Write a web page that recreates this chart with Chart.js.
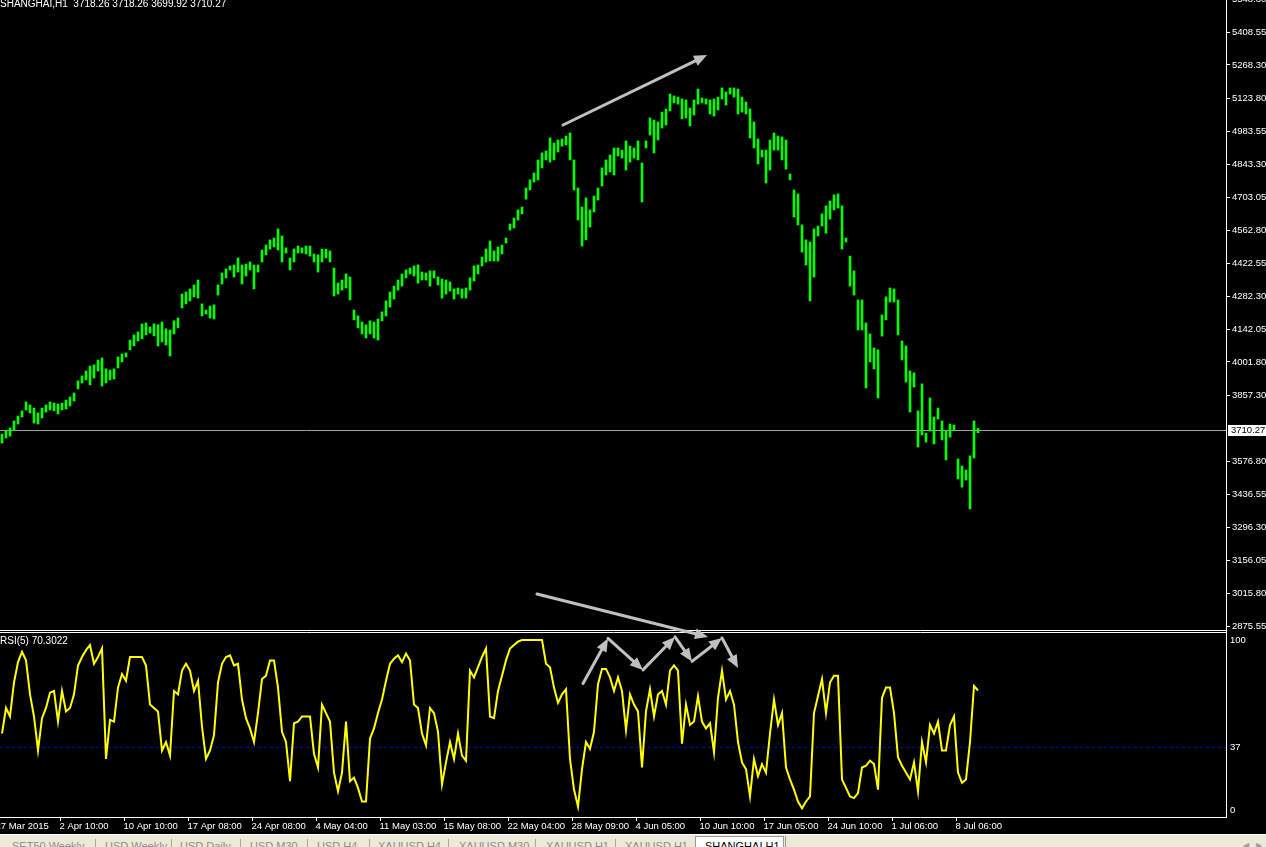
<!DOCTYPE html>
<html lang="en">
<head>
<meta charset="utf-8" />
<title>SHANGHAI,H1</title>
<script src="https://cdn.jsdelivr.net/npm/chart.js@4.4.1/dist/chart.umd.min.js"></script>
<style>
	html, body { margin: 0; padding: 0; background: #000; width: 1266px; height: 847px; overflow: hidden; }
	#wrap { position: absolute; left: 0; top: -20px; width: 1266px; height: 855px; }
	#tabs { position: absolute; left: 0; top: 834px; width: 1266px; height: 13px; box-sizing: border-box;
		background: #ece9d8; border-top: 1px solid #fff; overflow: hidden;
		font-family: "Liberation Sans", sans-serif; font-size: 11px; color: #8c8c8c; }
	#tabs span { position: absolute; top: 6px; line-height: 11px; white-space: nowrap; }
	#tabs .sep { position: absolute; top: 4px; width: 1px; height: 12px; background: #aca899; }
	#tabs .on { position: absolute; left: 695px; top: 1px; width: 89px; height: 14px; box-sizing: border-box;
		background: #fff; border: 1px solid #919b9c; border-bottom: none; color: #000; }
	#tabs .on span { left: 9px; top: 4px; }
	#tabs .end { position: absolute; left: 785px; top: 1px; width: 481px; height: 14px; border-left: 1px solid #919b9c; }
	#tabs .arr { position: absolute; top: 5px; font-size: 8px; color: #a0a0a0; }
</style>
</head>
<body>
<div id="wrap"><canvas id="chart" width="1266" height="855"></canvas></div>
<div id="tabs">
	<span style="left:12px">SET50 Weekly</span><div class="sep" style="left:95px"></div>
	<span style="left:105px">USD Weekly</span><div class="sep" style="left:171px"></div>
	<span style="left:180px">USD Daily</span><div class="sep" style="left:240px"></div>
	<span style="left:250px">USD M30</span><div class="sep" style="left:307px"></div>
	<span style="left:317px">USD H4</span><div class="sep" style="left:369px"></div>
	<span style="left:378px">XAUUSD H4</span><div class="sep" style="left:448px"></div>
	<span style="left:459px">XAUUSD M30</span><div class="sep" style="left:535px"></div>
	<span style="left:546px">XAUUSD H1</span><div class="sep" style="left:615px"></div>
	<span style="left:625px">XAUUSD H1</span>
	<div class="on"><span>SHANGHAI,H1</span></div>
	<div class="end"></div>
	<span class="arr" style="left:1243px">&#9664;</span><span class="arr" style="left:1256px">&#9654;</span>
</div>

<script>
	// H1 bars, two hours per slot
	var priceHigh = [
		3694, 3707, 3720, 3750, 3771, 3793, 3831, 3818, 3805, 3784,
		3805, 3818, 3831, 3826, 3822, 3826, 3839, 3852, 3869, 3921,
		3942, 3963, 3984, 3989, 4010, 4019, 3972, 3967, 3972, 4023,
		4036, 4040, 4095, 4117, 4130, 4164, 4168, 4151, 4164, 4160,
		4172, 4143, 4138, 4177, 4189, 4291, 4300, 4313, 4330, 4351,
		4249, 4223, 4240, 4245, 4330, 4381, 4398, 4411, 4415, 4445,
		4415, 4419, 4428, 4415, 4415, 4479, 4500, 4522, 4530, 4569,
		4539, 4488, 4445, 4483, 4496, 4488, 4496, 4496, 4462, 4458,
		4483, 4483, 4475, 4402, 4338, 4351, 4377, 4364, 4223, 4198,
		4172, 4160, 4177, 4172, 4185, 4215, 4262, 4300, 4325, 4351,
		4377, 4394, 4402, 4411, 4415, 4385, 4381, 4390, 4390, 4364,
		4355, 4351, 4343, 4313, 4317, 4313, 4317, 4360, 4411, 4415,
		4449, 4483, 4517, 4475, 4492, 4500, 4530, 4590, 4615, 4650,
		4662, 4743, 4778, 4807, 4863, 4893, 4901, 4957, 4935, 4948,
		4952, 4965, 4978, 4863, 4743, 4662, 4701, 4650, 4709, 4743,
		4829, 4863, 4884, 4914, 4914, 4905, 4944, 4922, 4914, 4944,
		4850, 4944, 5042, 5033, 5025, 5067, 5080, 5144, 5136, 5131,
		5123, 5119, 5084, 5119, 5165, 5127, 5123, 5119, 5123, 5131,
		5170, 5153, 5170, 5170, 5165, 5131, 5110, 5080, 5025, 4952,
		4905, 4905, 4948, 4978, 4965, 4961, 4948, 4803, 4735, 4718,
		4586, 4522, 4513, 4569, 4581, 4633, 4667, 4688, 4714, 4718,
		4667, 4530, 4453, 4390, 4266, 4266, 4168, 4121, 4061, 4053,
		4202, 4279, 4317, 4313, 4266, 4091, 4070, 3963, 3955, 3793,
		3908, 3698, 3848, 3767, 3805, 3750, 3707, 3737, 3733, 3588,
		3558, 3541, 3601, 3750, 3718.26
	];
	var priceLow = [
		3656, 3677, 3685, 3711, 3737, 3767, 3797, 3784, 3741, 3737,
		3763, 3788, 3797, 3793, 3780, 3797, 3801, 3814, 3835, 3887,
		3912, 3925, 3904, 3933, 3963, 3899, 3912, 3925, 3929, 3976,
		4002, 4023, 4053, 4070, 4091, 4100, 4117, 4125, 4113, 4070,
		4087, 4074, 4027, 4121, 4147, 4232, 4249, 4262, 4279, 4274,
		4198, 4206, 4189, 4185, 4287, 4334, 4360, 4394, 4364, 4385,
		4334, 4368, 4394, 4313, 4385, 4428, 4458, 4483, 4492, 4479,
		4428, 4466, 4394, 4428, 4466, 4466, 4462, 4453, 4428, 4385,
		4428, 4445, 4428, 4283, 4291, 4308, 4317, 4266, 4181, 4147,
		4121, 4104, 4121, 4104, 4095, 4177, 4198, 4236, 4270, 4308,
		4325, 4360, 4377, 4368, 4338, 4351, 4351, 4325, 4360, 4330,
		4274, 4291, 4304, 4270, 4291, 4274, 4274, 4308, 4347, 4377,
		4411, 4428, 4432, 4432, 4432, 4462, 4509, 4564, 4573, 4607,
		4633, 4696, 4735, 4769, 4778, 4829, 4863, 4854, 4863, 4897,
		4922, 4927, 4863, 4735, 4607, 4496, 4522, 4577, 4641, 4692,
		4752, 4799, 4812, 4799, 4880, 4871, 4820, 4854, 4871, 4863,
		4684, 4914, 4969, 4893, 4948, 4999, 5012, 5072, 5106, 5101,
		5038, 5042, 5008, 5055, 5101, 5106, 5101, 5059, 5050, 5076,
		5123, 5097, 5144, 5131, 5059, 5067, 5059, 4957, 4914, 4846,
		4876, 4765, 4820, 4905, 4905, 4863, 4824, 4778, 4620, 4586,
		4470, 4415, 4262, 4364, 4539, 4581, 4551, 4611, 4650, 4658,
		4483, 4513, 4325, 4287, 4138, 4138, 3891, 4002, 3972, 3848,
		4112, 4181, 4257, 4257, 4117, 4010, 3916, 3788, 3895, 3639,
		3690, 3660, 3707, 3652, 3758, 3669, 3584, 3681, 3711, 3503,
		3468, 3498, 3375, 3592, 3699.92
	];
	var rsi = [
		45, 60, 55, 75, 87, 93, 88, 68, 55, 35,
		54, 60, 69, 70, 52, 70, 58, 60, 68, 85,
		90, 94, 97, 86, 90, 95, 30, 53, 52, 72,
		80, 76, 90, 90, 90, 90, 85, 62, 60, 58,
		35, 40, 32, 70, 68, 82, 86, 82, 70, 76,
		49, 30, 35, 44, 75, 86, 90, 91, 85, 86,
		65, 54, 48, 40, 57, 77, 79, 88, 88, 72,
		46, 40, 17, 51, 52, 55, 55, 55, 33, 25,
		62, 57, 52, 22, 11, 22, 52, 17, 19, 13,
		5, 5, 42, 48, 57, 65, 76, 86, 89, 91,
		87, 92, 88, 62, 60, 45, 38, 60, 57, 46,
		15, 28, 40, 30, 45, 32, 29, 82, 78, 84,
		90, 95, 55, 54, 70, 79, 88, 95, 97, 99,
		100, 100, 100, 100, 100, 100, 86, 84, 72, 63,
		68, 71, 30, 12, 2, 24, 40, 36, 46, 74,
		83, 83, 78, 70, 78, 70, 47, 68, 62, 58,
		25, 58, 71, 55, 68, 70, 62, 82, 85, 82,
		39, 62, 50, 52, 67, 52, 48, 51, 34, 66,
		82, 65, 70, 62, 40, 28, 24, 8, 30, 20,
		27, 22, 45, 65, 50, 57, 25, 18, 12, 5,
		1, 5, 8, 57, 67, 77, 57, 75, 79, 79,
		18, 13, 8, 7, 10, 25, 26, 29, 27, 12,
		66, 72, 72, 57, 31, 26, 22, 18, 28, 11,
		40, 28, 50, 45, 52, 35, 35, 50, 55, 22,
		16, 18, 40, 73, 70.3022
	];

	var lastOpen = 3718.26, lastHigh = 3718.26, lastLow = 3699.92, lastClose = 3710.27;
	var rsiLevel = 37;
	var rsiLabels = [100, 37, 0];
	var priceTicks = [5548.80, 5408.55, 5268.30, 5123.80, 4983.55, 4843.30, 4703.05, 4562.80,
		4422.55, 4282.30, 4142.05, 4001.80, 3857.30, 3576.80, 3436.55, 3296.30, 3156.05, 3015.80, 2875.55];
	var timeTickIdx = [-1, 15, 31, 47, 63, 79, 95, 111, 127, 143, 159, 175, 191, 207, 223, 239];
	var timeTickLabels = ["27 Mar 2015", "2 Apr 10:00", "10 Apr 10:00", "17 Apr 08:00", "24 Apr 08:00",
		"4 May 04:00", "11 May 03:00", "15 May 08:00", "22 May 04:00", "28 May 09:00", "4 Jun 05:00",
		"10 Jun 10:00", "17 Jun 05:00", "24 Jun 10:00", "1 Jul 06:00", "8 Jul 06:00"];

	// hand drawn trend arrows: [bar, value, axis]
	var arrowPaths = [
		[[140.25, 5012, "y"], [176.25, 5310, "y"]],
		[[133.75, 3012, "y"], [176.5, 101.8, "yRsi"]],
		[[145.25, 74.4, "yRsi"], [151.5, 100.9, "yRsi"], [160.25, 82.4, "yRsi"], [168.25, 101.8, "yRsi"],
			[172.5, 87.4, "yRsi"], [180, 101.2, "yRsi"], [184, 83.5, "yRsi"]]
	];

	// one canvas, two panes: price on top, RSI(5) below
	var priceMin = 2061.3, priceMax = 5630.3, paneBottom = 2858.5;
	var rsiMin = -4.12, rsiMax = 488.2;
	var font = '"Liberation Sans", sans-serif';

	function drawArrow(ctx, x1, y1, x2, y2) {
		var a = Math.atan2(y2 - y1, x2 - x1);
		var head = 13, w = 5.5;
		var bx = x2 - head * Math.cos(a), by = y2 - head * Math.sin(a);
		ctx.beginPath();
		ctx.moveTo(x1, y1);
		ctx.lineTo(bx, by);
		ctx.stroke();
		ctx.beginPath();
		ctx.moveTo(x2, y2);
		ctx.lineTo(bx + w * Math.sin(a), by - w * Math.cos(a));
		ctx.lineTo(bx - w * Math.sin(a), by + w * Math.cos(a));
		ctx.closePath();
		ctx.fill();
	}

	var overlay = {
		id: "overlay",
		beforeDatasetsDraw: function (chart) {
			var ctx = chart.ctx, a = chart.chartArea, y = chart.scales.y, r = chart.scales.yRsi;
			ctx.save();
			ctx.lineWidth = 1;
			var py = Math.round(y.getPixelForValue(lastClose)) + 0.5;
			ctx.strokeStyle = "#a0a0a0";
			ctx.beginPath();
			ctx.moveTo(a.left, py);
			ctx.lineTo(a.right, py);
			ctx.stroke();
			var ly = Math.round(r.getPixelForValue(rsiLevel)) + 0.5;
			ctx.strokeStyle = "#0000c8";
			ctx.setLineDash([3, 3]);
			ctx.beginPath();
			ctx.moveTo(a.left, ly);
			ctx.lineTo(a.right, ly);
			ctx.stroke();
			ctx.restore();
		},
		afterDraw: function (chart) {
			var ctx = chart.ctx, a = chart.chartArea;
			var x = chart.scales.x, y = chart.scales.y, r = chart.scales.yRsi;
			ctx.save();

			// pane separator
			var sy = Math.round(y.getPixelForValue(paneBottom));
			ctx.fillStyle = "#000";
			ctx.fillRect(a.left, sy, a.right - a.left, 3);
			ctx.strokeStyle = "#fff";
			ctx.lineWidth = 1;
			ctx.beginPath();
			ctx.moveTo(a.left, sy + 0.5); ctx.lineTo(a.right + 1, sy + 0.5);
			ctx.moveTo(a.left, sy + 2.5); ctx.lineTo(a.right + 1, sy + 2.5);
			ctx.moveTo(a.left, a.bottom + 0.5); ctx.lineTo(a.right + 1, a.bottom + 0.5);
			ctx.stroke();

			// time axis
			ctx.font = "9.5px " + font;
			ctx.fillStyle = "#fff";
			ctx.textAlign = "left";
			ctx.textBaseline = "middle";
			ctx.beginPath();
			for (var i = 0; i < timeTickIdx.length; i++) {
				var tx = Math.round(x.getPixelForValue(timeTickIdx[i] - 0.5)) + 0.5;
				ctx.moveTo(tx, a.bottom + 1);
				ctx.lineTo(tx, a.bottom + 4);
				ctx.fillText(timeTickLabels[i], tx - 1, a.bottom + 9);
			}
			ctx.stroke();

			// RSI scale labels
			for (var k = 0; k < rsiLabels.length; k++) {
				ctx.fillText(String(rsiLabels[k]), a.right + 4, r.getPixelForValue(rsiLabels[k]));
			}

			// last price box
			var py = y.getPixelForValue(lastClose);
			ctx.fillStyle = "#fff";
			ctx.fillRect(a.right + 2, Math.round(py) - 5, chart.width - a.right - 2, 11);
			ctx.fillStyle = "#000";
			ctx.fillText(lastClose.toFixed(2), a.right + 5, py + 0.5);

			// pane titles
			ctx.fillStyle = "#fff";
			ctx.font = "10px " + font;
			ctx.fillText("SHANGHAI,H1  " + lastOpen.toFixed(2) + " " + lastHigh.toFixed(2) + " " +
				lastLow.toFixed(2) + " " + lastClose.toFixed(2), 0, a.top + 24);
			ctx.fillText("RSI(5) " + rsi[rsi.length - 1].toFixed(4), 0, sy + 11);

			// arrows
			ctx.strokeStyle = "#c0c0c0";
			ctx.fillStyle = "#c0c0c0";
			ctx.lineWidth = 3;
			ctx.lineCap = "round";
			arrowPaths.forEach(function (path) {
				for (var j = 1; j < path.length; j++) {
					var p0 = path[j - 1], p1 = path[j];
					drawArrow(ctx,
						x.getPixelForValue(p0[0]), chart.scales[p0[2]].getPixelForValue(p0[1]),
						x.getPixelForValue(p1[0]), chart.scales[p1[2]].getPixelForValue(p1[1]));
				}
			});
			ctx.restore();
		}
	};

	var bars = priceHigh.map(function (h, i) { return { x: i, y: [priceLow[i], h] }; });
	var rsiPts = rsi.map(function (v, i) { return { x: i, y: v }; });

	var ctx = document.getElementById("chart").getContext("2d");
	var myChart = new Chart(ctx, {
		type: "bar",
		data: {
			datasets: [
				{
					type: "bar",
					data: bars,
					yAxisID: "y",
					backgroundColor: "#00ff00",
					borderWidth: 0,
					barThickness: 2,
					grouped: false
				},
				{
					type: "line",
					data: rsiPts,
					xAxisID: "x",
					yAxisID: "yRsi",
					borderColor: "#ffff00",
					borderWidth: 2,
					pointRadius: 0,
					tension: 0,
					fill: false
				}
			]
		},
		options: {
			responsive: false,
			animation: false,
			devicePixelRatio: 1,
			layout: { padding: { left: 0, right: 0, top: 0, bottom: 18 } },
			plugins: { legend: { display: false }, tooltip: { enabled: false } },
			scales: {
				x: { type: "linear", display: false, min: -0.5, max: 306, offset: false },
				y: {
					type: "linear",
					position: "right",
					min: priceMin,
					max: priceMax,
					bounds: "data",
					beginAtZero: false,
					afterBuildTicks: function (s) {
						s.ticks = priceTicks.map(function (v) { return { value: v }; });
					},
					afterFit: function (s) {
						s.width = 40;
						s.paddingTop = 0;
						s.paddingBottom = 0;
					},
					border: { display: true, color: "#fff", width: 1 },
					grid: { drawOnChartArea: false, drawTicks: true, tickLength: 4, color: "#fff", tickColor: "#fff" },
					ticks: {
						autoSkip: false,
						padding: 2,
						color: "#fff",
						font: { family: "Liberation Sans", size: 9.5 },
						callback: function (v) { return Number(v).toFixed(2); }
					}
				},
				yRsi: { type: "linear", axis: "y", position: "left", display: false, min: rsiMin, max: rsiMax, bounds: "data" }
			}
		},
		plugins: [overlay]
	});
</script>
</body>
</html>
